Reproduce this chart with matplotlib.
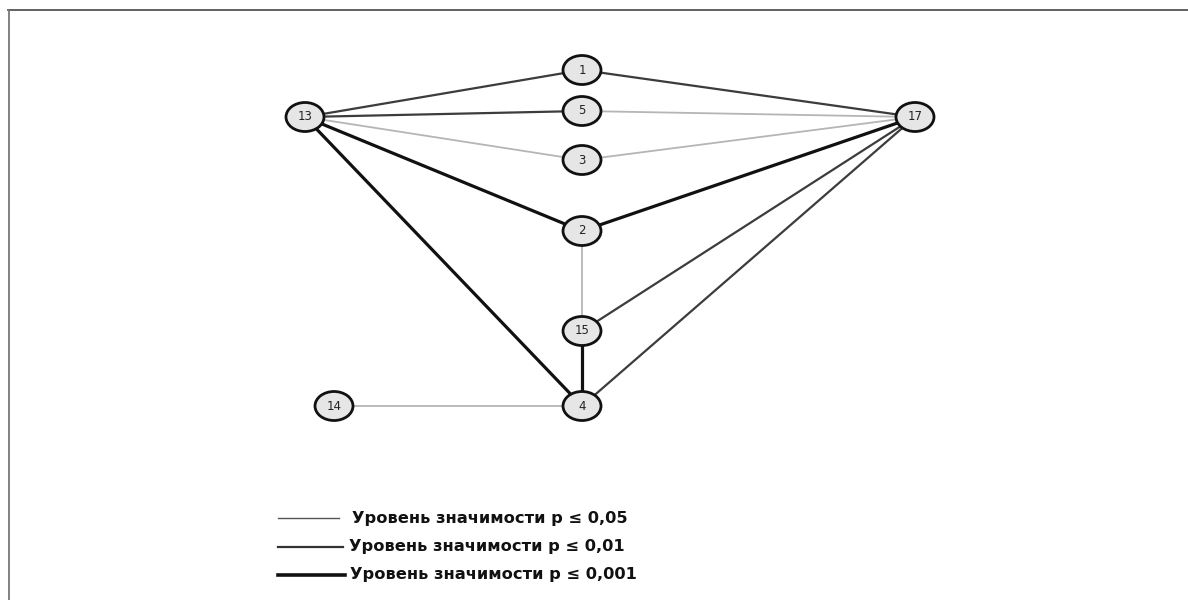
import matplotlib
matplotlib.use("Agg")
import matplotlib.pyplot as plt
from matplotlib.patches import Ellipse
from matplotlib.lines import Line2D

# Data
nodes = ["1", "5", "3", "2", "15", "4", "13", "17", "14"]
edges = [
    ("13", "1", 2), ("13", "5", 2), ("13", "3", 1), ("13", "2", 3), ("13", "4", 3),
    ("1", "17", 2), ("5", "17", 1), ("3", "17", 1), ("2", "17", 3),
    ("15", "17", 2), ("4", "17", 2), ("2", "15", 1), ("15", "4", 3), ("14", "4", 1),
]
legend_labels = ["Уровень значимости р ≤ 0,05",
                 "Уровень значимости р ≤ 0,01",
                 "Уровень значимости р ≤ 0,001"]

# Layout (pixel-like coordinates)
pos = {"1": (582, 70), "5": (582, 111), "3": (582, 160), "2": (582, 231),
       "15": (582, 331), "4": (582, 406), "13": (305, 117), "17": (915, 117),
       "14": (334, 406)}
edge_style = {1: dict(color="#b5b5b5", lw=1.3),
              2: dict(color="#3c3c3c", lw=1.6),
              3: dict(color="#111111", lw=2.3)}
legend_style = {1: dict(color="#555555", lw=1.0),
                2: dict(color="#333333", lw=1.6),
                3: dict(color="#111111", lw=2.6)}

fig = plt.figure(figsize=(11.88, 6.0), dpi=100)
ax = fig.add_axes([0, 0, 1, 1])
ax.set_xlim(0, 1188)
ax.set_ylim(600, 0)
ax.axis("off")

for a, b, lvl in edges:
    (x1, y1), (x2, y2) = pos[a], pos[b]
    ax.plot([x1, x2], [y1, y2], zorder=1, solid_capstyle="butt", **edge_style[lvl])

for n in nodes:
    x, y = pos[n]
    ax.add_patch(Ellipse((x, y), 38, 29, facecolor="#e6e6e6", edgecolor="#111111",
                         lw=2.0, zorder=3))
    ax.text(x, y, n, ha="center", va="center", fontsize=8.5,
            family=["DejaVu Sans"], color="#222222", zorder=4)

ly = [518, 547, 575]
lx = [(278, 339), (278, 343), (278, 345)]
tx = [352, 349, 350]
for i, (lab, y) in enumerate(zip(legend_labels, ly)):
    ax.plot(list(lx[i]), [y, y], **legend_style[i + 1])
    ax.text(tx[i], y, lab, ha="left", va="center", fontsize=11.7,
            fontweight="bold", family=["DejaVu Sans"], color="#111111")

# Frame (top and left)
fig.add_artist(Line2D([8 / 1188, 1], [1 - 9.5 / 600, 1 - 9.5 / 600],
                      transform=fig.transFigure, color="#555555", lw=1.3))
fig.add_artist(Line2D([8.5 / 1188, 8.5 / 1188], [0, 1 - 9.5 / 600],
                      transform=fig.transFigure, color="#777777", lw=1.3))

fig.savefig("out.png", dpi=100)
